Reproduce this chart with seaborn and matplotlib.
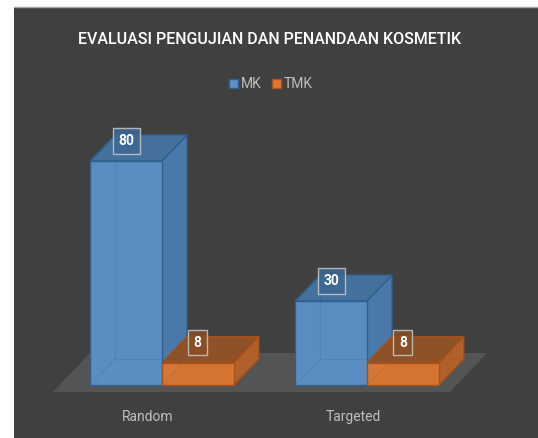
import matplotlib
matplotlib.use("Agg")
import matplotlib.pyplot as plt
from matplotlib.patches import Polygon, Rectangle, Patch
from matplotlib.lines import Line2D
import matplotlib.transforms as mtransforms
import pandas as pd
import seaborn as sns

# ----- data
categories = ["Random", "Targeted"]
series = ["MK", "TMK"]
mk_values = [80, 30]
tmk_values = [8, 8]
title = "EVALUASI PENGUJIAN DAN PENANDAAN KOSMETIK"

# ----- styles
bg = "#404040"
floor_col = "#545454"
faces = {
    "MK": {"front": "#5B91C8", "side": "#4A78A8", "top": "#44709C", "edge": "#2F5F8F", "box": "#3E6894"},
    "TMK": {"front": "#DD7733", "side": "#B0602A", "top": "#8F5128", "edge": "#A8501A", "box": "#8A4E26"},
}
W, H = 538, 438

df = pd.DataFrame({
    "category": categories * 2,
    "series": ["MK"] * len(categories) + ["TMK"] * len(categories),
    "value": mk_values + tmk_values,
})

sns.set_theme(style="white")
plt.rcParams["font.family"] = ["Roboto", "DejaVu Sans"]

fig = plt.figure(figsize=(W / 100, H / 100), dpi=100, facecolor="white")
fig.patches.append(Rectangle((14 / W, 0), 1 - 14 / W, 431 / H, transform=fig.transFigure,
                             facecolor=bg, edgecolor="none", zorder=-5))
fig.lines.append(Line2D([14 / W, 1], [431 / H, 431 / H], transform=fig.transFigure,
                        color="#a6a6a6", lw=1, zorder=-4))

ax = fig.add_axes([59.5 / W, 53 / H, 410 / W, 224 / H])
ax.set_facecolor("none")

sns.barplot(data=df, x="category", y="value", hue="series", hue_order=series,
            palette=[faces[s]["front"] for s in series], width=0.7,
            legend=False, ax=ax, zorder=3)
bars = [p for p in ax.patches if isinstance(p, Rectangle)]
ax.set_xlim(-0.5, 1.5)
ax.set_ylim(0, 80)

# pixel -> data scale
px_x = 2.0 / 410
px_y = 80 / 224.0

# floor
fdx, fdy = 37 * px_x, 39 * px_y
f0 = -7 * px_y
fl, fr = -0.532, 1.405
floor = Polygon([(fl, f0), (fr, f0), (fr + fdx, f0 + fdy), (fl + fdx, f0 + fdy)],
                closed=True, facecolor=floor_col, edgecolor="none", zorder=1, clip_on=False)
ax.add_patch(floor)

# 3d faces for each bar
dx, dy = 25 * px_x, 26 * px_y
n = len(categories)
for i, bar in enumerate(bars):
    c = faces[series[i // n]]
    x0 = bar.get_x()
    x1 = x0 + bar.get_width()
    h = bar.get_height()
    bar.set_facecolor(c["front"])
    bar.set_edgecolor(c["edge"])
    bar.set_linewidth(1.0)
    bar.set_alpha(0.95)
    bar.set_zorder(5)
    bar.set_clip_on(False)
    # hidden back edges seen through
    for xs, ys in [([x0 + dx, x0 + dx], [dy, h + dy]), ([x0, x0 + dx], [0, dy]),
                   ([x0 + dx, x1 + dx], [dy, dy])]:
        ax.plot(xs, ys, color=c["edge"], lw=0.8, alpha=0.18, zorder=6, clip_on=False)
    side = Polygon([(x1, 0), (x1 + dx, dy), (x1 + dx, h + dy), (x1, h)], closed=True,
                   facecolor=c["side"], edgecolor=c["edge"], lw=1.0, zorder=4, clip_on=False)
    top = Polygon([(x0, h), (x1, h), (x1 + dx, h + dy), (x0 + dx, h + dy)], closed=True,
                  facecolor=c["top"], edgecolor=c["edge"], lw=1.0, zorder=4, clip_on=False)
    ax.add_patch(side)
    ax.add_patch(top)
    ax.text((x0 + x1) / 2, h + 20 * px_y, f"{h:.0f}", ha="center", va="center",
            color="white", fontsize=10, fontweight="bold", zorder=8, clip_on=False,
            bbox=dict(boxstyle="square,pad=0.4", facecolor=c["box"], edgecolor="#c8c8c8",
                      lw=1.0, alpha=0.85))

# axes cosmetics
for sp in ax.spines.values():
    sp.set_visible(False)
ax.set_yticks([])
ax.set_xlabel("")
ax.set_ylabel("")
ax.tick_params(axis="x", length=0, pad=18, labelsize=10, labelcolor="#bfbfbf")
shift = mtransforms.ScaledTranslation(-14 / 100, 0, fig.dpi_scale_trans)
for lab in ax.get_xticklabels():
    lab.set_transform(lab.get_transform() + shift)

fig.text(270 / W, 1 - 40 / H, title, ha="center", va="center", color="white",
         fontsize=11.5, fontweight="medium")

handles = [Patch(facecolor=faces[s]["front"], edgecolor=faces[s]["edge"], label=s) for s in series]
fig.legend(handles=handles, loc="center", bbox_to_anchor=(271 / W, 1 - 84 / H), ncol=2,
           frameon=False, fontsize=10, labelcolor="#bfbfbf", handlelength=0.6,
           handleheight=0.6, handletextpad=0.2, columnspacing=0.8)

fig.savefig("out.png", dpi=100, facecolor=fig.get_facecolor())
